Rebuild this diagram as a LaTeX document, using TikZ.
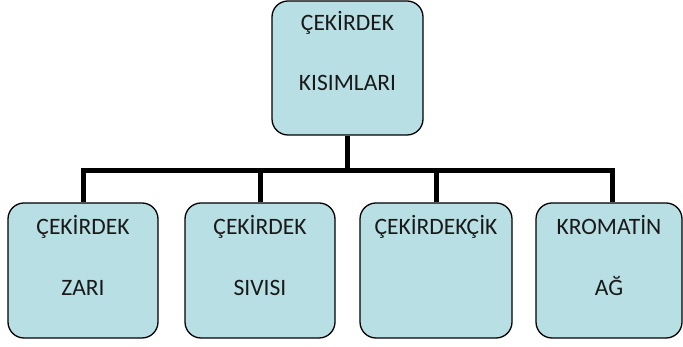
\documentclass[tikz,border=0pt]{standalone}
\usepackage{fontspec}
\setmainfont{Carlito}
\definecolor{boxfill}{HTML}{B8DFE3}
\begin{document}
\begin{tikzpicture}[x=1pt,y=1pt,
  box/.style={draw=black, line width=1.3pt, fill=boxfill, rounded corners=16pt, inner sep=0pt},
  lbl/.style={font=\fontsize{23.5}{27}\selectfont, text=black!90, inner sep=0pt, anchor=base},
  conn/.style={draw=black, line width=5pt}]
\useasboundingbox (0,0) rectangle (683,347);
\node[box, minimum width=151pt, minimum height=134pt] (top) at (347.5,279) {};
\node[box, minimum width=150pt, minimum height=135pt] (b1) at (83,76.5) {};
\node[box, minimum width=150pt, minimum height=135pt] (b2) at (260,76.5) {};
\node[box, minimum width=152pt, minimum height=135pt] (b3) at (436,76.5) {};
\node[box, minimum width=146pt, minimum height=135pt] (b4) at (609,76.5) {};
\coordinate (bus) at (0,176);
\draw[conn] (top.south) -- (top.south |- bus);
\draw[conn] (b1.north) -- (b1.north |- bus) -- ([xshift=3pt]b4.north |- bus) -- ([xshift=3pt]b4.north);
\draw[conn] (b2.north) -- (b2.north |- bus);
\draw[conn] (b3.north) -- (b3.north |- bus);
\node[lbl] (t1) at (347.5,316) {ÇEKİRDEK};
\node[lbl] (t2) at (347.5,256) {KISIMLARI};
\node[lbl] (a1) at (83,112) {ÇEKİRDEK};
\node[lbl] (a2) at (83,51) {ZARI};
\node[lbl] (c1) at (260,112) {ÇEKİRDEK};
\node[lbl] (c2) at (260,51) {SIVISI};
\node[lbl] (d1) at (436,112) {ÇEKİRDEKÇİK};
\node[lbl] (e1) at (609,112) {KROMATİN};
\node[lbl] (e2) at (609,51) {AĞ};
\end{tikzpicture}
\end{document}
